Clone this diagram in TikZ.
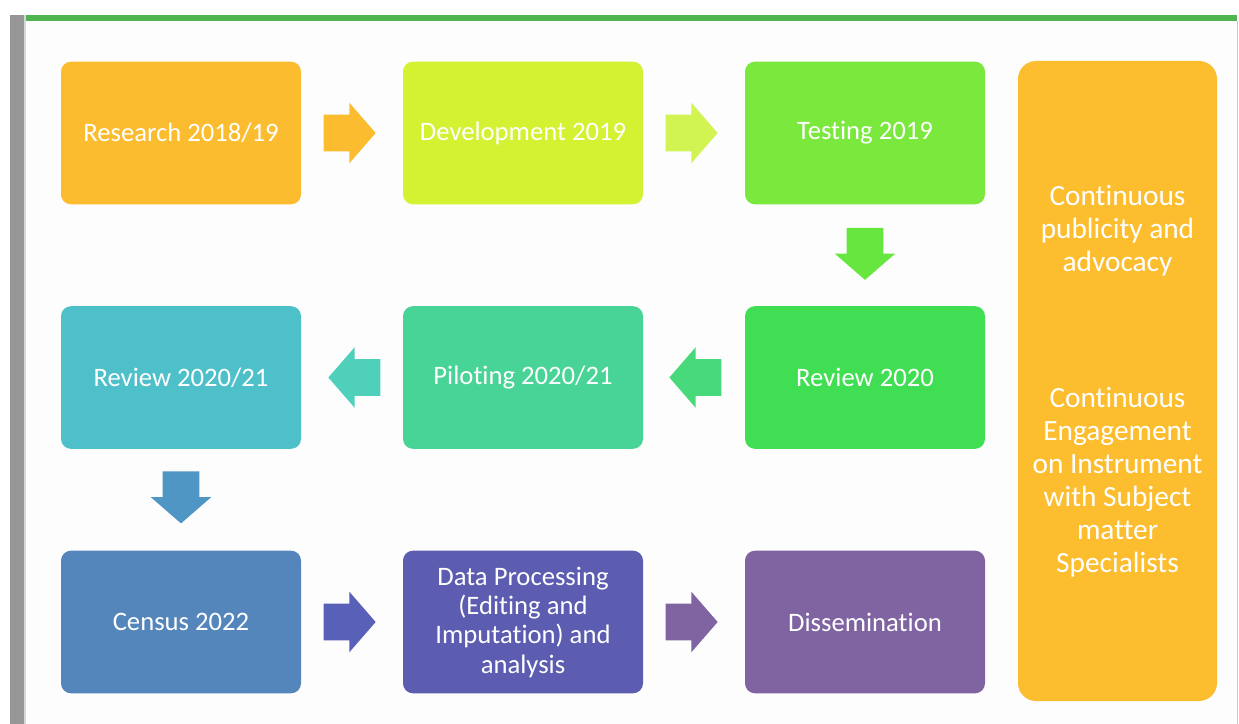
\documentclass[tikz,border=0pt]{standalone}
\usepackage{fontspec}
\setmainfont[Ligatures=NoCommon]{Carlito}
\usetikzlibrary{shapes.arrows,calc}

\definecolor{cresearch}{RGB}{251,188,47}
\definecolor{cdevel}{RGB}{212,242,50}
\definecolor{ctesting}{RGB}{122,232,60}
\definecolor{creviewa}{RGB}{64,222,82}
\definecolor{cpiloting}{RGB}{72,212,150}
\definecolor{creviewb}{RGB}{78,192,202}
\definecolor{ccensus}{RGB}{84,134,188}
\definecolor{cdataproc}{RGB}{92,92,176}
\definecolor{cdissem}{RGB}{128,100,162}
\definecolor{csidebar}{RGB}{252,189,46}

\tikzset{
  stagebox/.style={rounded corners=7.5pt, minimum width=180pt, minimum height=107pt,
    text=white, align=center, font=\fontsize{20}{22}\selectfont, inner sep=2pt},
  blockarrow/.style={single arrow, draw=none, minimum height=39pt, inner xsep=0pt,
    inner ysep=13.5pt, text height=0pt, text depth=0pt, single arrow head extend=9pt,
    single arrow tip angle=98, anchor=tip},
  downarrow/.style={blockarrow, shape border rotate=270, inner xsep=13.5pt, inner ysep=0pt},
}

\begin{document}
\begin{tikzpicture}[x=0.75pt,y=0.75pt,yscale=-1,xscale=1]
        \useasboundingbox (0,0) rectangle (1239,724);
        % Frame
        \fill [color={rgb, 255:red, 253; green, 253; blue, 253 }] (24,15) rectangle (1237,724);
        \fill [color={rgb, 255:red, 150; green, 150; blue, 150 }] (10,15) rectangle (24,724);
        \fill [color={rgb, 255:red, 215; green, 215; blue, 215 }] (24,15) rectangle (26,724);
        \fill [color={rgb, 255:red, 80; green, 180; blue, 80 }] (26,15) rectangle (1237,21);
        \draw [color={rgb, 255:red, 200; green, 200; blue, 200 }] (1237.5,21) -- (1237.5,724);
        % Row 1
        \node [stagebox, fill=cresearch] (research) at (181,133) {Research 2018/19};
        \node [stagebox, fill=cdevel] (devel) at (523,133) {Development 2019};
        \node [stagebox, fill=ctesting] (testing) at (865,133) {Testing 2019};
        % Row 2
        \node [stagebox, fill=creviewa] (reviewa) at (865,377.5) {Review 2020};
        \node [stagebox, fill=cpiloting] (piloting) at (523,377.5) {Piloting 2020/21};
        \node [stagebox, fill=creviewb] (reviewb) at (181,377.5) {Review 2020/21};
        % Row 3
        \node [stagebox, fill=ccensus] (census) at (181,622) {Census 2022};
        \node [stagebox, fill=cdataproc] (dataproc) at (523,622) {Data Processing\\(Editing and\\Imputation) and\\analysis};
        \node [stagebox, fill=cdissem] (dissem) at (865,622) {Dissemination};
        % Side box
        \node [stagebox, fill=csidebar, rounded corners=13.5pt, minimum width=149.25pt,
          minimum height=480pt, font=\fontsize{22}{24.75}\selectfont] (sidebar) at (1117.5,381)
          {Continuous\\publicity and\\advocacy\\[77pt]Continuous\\Engagement\\on Instrument\\with Subject\\matter\\Specialists};
        % Arrows
        \node [blockarrow, fill=cresearch] (arr1) at ($(research.east)!0.5!(devel.west)+(24,0)$) {};
        \node [blockarrow, fill={rgb, 255:red, 210; green, 244; blue, 82 }] (arr2) at ($(devel.east)!0.5!(testing.west)+(24,0)$) {};
        \node [downarrow, fill={rgb, 255:red, 104; green, 230; blue, 64 }] (arr3) at ($(testing.south)!0.5!(reviewa.north)+(0,25)$) {};
        \node [blockarrow, fill={rgb, 255:red, 72; green, 218; blue, 122 }, shape border rotate=180] (arr4) at ($(reviewa.west)!0.5!(piloting.east)+(-25,0)$) {};
        \node [blockarrow, fill={rgb, 255:red, 78; green, 208; blue, 186 }, shape border rotate=180] (arr5) at ($(piloting.west)!0.5!(reviewb.east)+(-24,0)$) {};
        \node [downarrow, fill={rgb, 255:red, 80; green, 150; blue, 196 }] (arr6) at ($(reviewb.south)!0.5!(census.north)+(0,24)$) {};
        \node [blockarrow, fill={rgb, 255:red, 88; green, 96; blue, 184 }] (arr7) at ($(census.east)!0.5!(dataproc.west)+(24,0)$) {};
        \node [blockarrow, fill=cdissem] (arr8) at ($(dataproc.east)!0.5!(dissem.west)+(24,0)$) {};
    \end{tikzpicture}
\end{document}
